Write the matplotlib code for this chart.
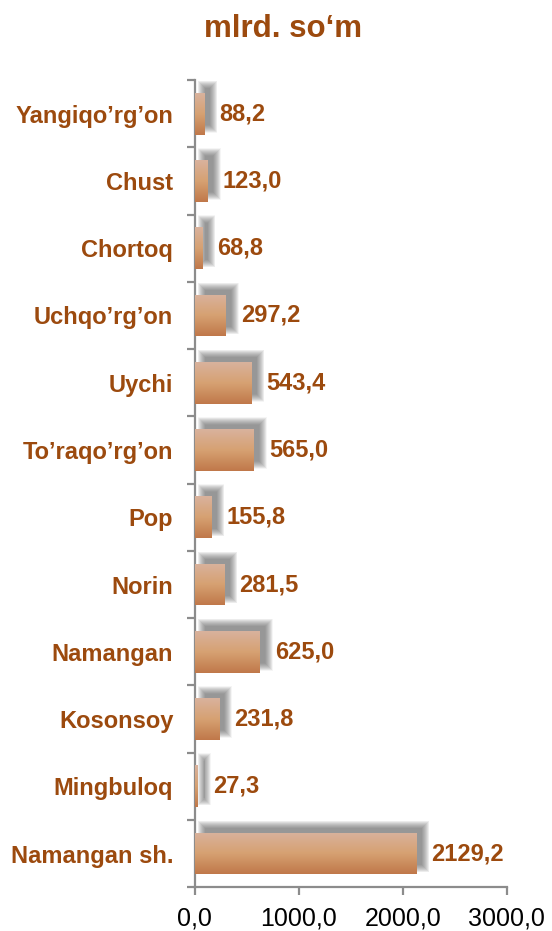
import numpy as np
import matplotlib
matplotlib.use("Agg")
import matplotlib.pyplot as plt
from matplotlib.colors import LinearSegmentedColormap
from matplotlib.patches import Rectangle
from matplotlib.transforms import ScaledTranslation

# data (top to bottom as in the chart)
districts = [
    "Yangiqo’rg’on", "Chust", "Chortoq", "Uchqo’rg’on", "Uychi",
    "To’raqo’rg’on", "Pop", "Norin", "Namangan", "Kosonsoy",
    "Mingbuloq", "Namangan sh.",
]
values = [88.2, 123.0, 68.8, 297.2, 543.4, 565.0, 155.8, 281.5, 625.0, 231.8, 27.3, 2129.2]
x_ticks = [0, 1000, 2000, 3000]
x_tick_labels = ["0,0", "1000,0", "2000,0", "3000,0"]
title = "mlrd. so‘m"

BROWN = "#9C4A0E"
AXIS_GREY = "#8C8C8C"
bar_cmap = LinearSegmentedColormap.from_list(
    "bar", ["#D9B29D", "#D6A172", "#C0784A"])

plt.rcParams["font.family"] = ["Liberation Sans", "DejaVu Sans"]

fig = plt.figure(figsize=(5.52, 9.31), dpi=100)
ax = fig.add_axes([0.353, 0.047, 0.565, 0.867])

n = len(districts)
ypos = np.arange(n)
bar_h = 0.62
xmax = 3000

ax.set_xlim(0, xmax)
ax.set_ylim(n - 0.5, -0.5)

# pixel -> data conversion for the soft shadow
ax_w_px = 0.565 * 552
ax_h_px = 0.867 * 931
px_x = xmax / ax_w_px
px_y = n / ax_h_px

# soft grey shadow: stacked translucent rectangles, shifted up/right
shadow_shift = ScaledTranslation(8 / 100, 7 / 100, fig.dpi_scale_trans)
for y, v in zip(ypos, values):
    for k in np.arange(5, -3, -0.5):
        ax.add_patch(Rectangle(
            (-k * px_x, y - bar_h / 2 - k * px_y),
            v + 2 * k * px_x, bar_h + 2 * k * px_y,
            transform=ax.transData + shadow_shift,
            facecolor="#5A5A5A", edgecolor="none", alpha=0.055, zorder=2))

bars = ax.barh(ypos, values, height=bar_h, color="#D6A172", zorder=3)
grad = np.linspace(0, 1, 100).reshape(-1, 1)
for patch, y, v in zip(bars, ypos, values):
    im = ax.imshow(grad, cmap=bar_cmap, aspect="auto", zorder=3.5,
                   extent=[0, v, y + bar_h / 2, y - bar_h / 2],
                   origin="upper", interpolation="bilinear")
    im.set_clip_path(patch)

ax.set_xlim(0, xmax)
ax.set_ylim(n - 0.5, -0.5)

for y, v in zip(ypos, values):
    ax.annotate(f"{v:.1f}".replace(".", ","), (v, y), xytext=(11, 0),
                textcoords="offset points", va="center", ha="left",
                fontsize=17, fontweight="bold", color=BROWN, zorder=5)

# axes styling
for s in ["top", "right"]:
    ax.spines[s].set_visible(False)
for s in ["left", "bottom"]:
    ax.spines[s].set_color(AXIS_GREY)
    ax.spines[s].set_linewidth(1.6)

ax.set_xticks(x_ticks)
ax.set_xticklabels(x_tick_labels, fontsize=18, color="black")
ax.tick_params(axis="x", direction="out", length=6, width=1.6,
               color=AXIS_GREY, pad=8)

ax.set_yticks(np.arange(n + 1) - 0.5)
ax.set_yticklabels([])
ax.tick_params(axis="y", which="major", direction="out", length=6,
               width=1.6, color=AXIS_GREY)
ax.set_yticks(ypos, minor=True)
ax.set_yticklabels(districts, minor=True, fontsize=17, fontweight="bold",
                   color=BROWN)
ax.tick_params(axis="y", which="minor", length=0, pad=15.5)

fig.text(0.513, 0.969, title, ha="center", va="center", fontsize=22.5,
         fontweight="bold", color=BROWN)

fig.savefig("out.png", dpi=100)
